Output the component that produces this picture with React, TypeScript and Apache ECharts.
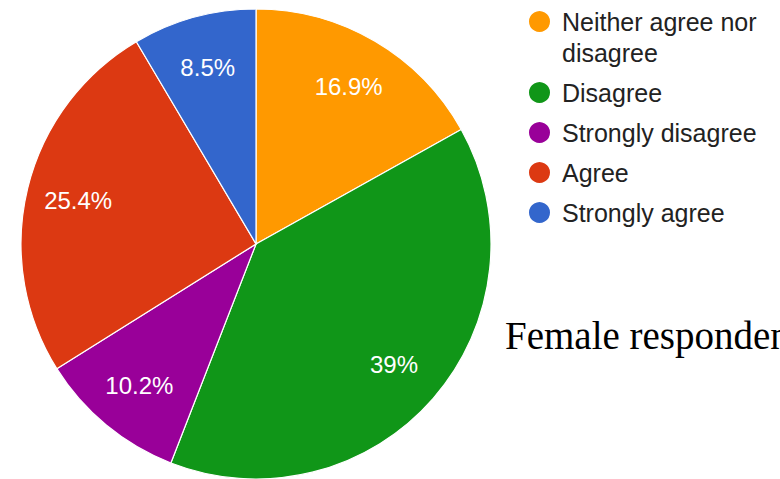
import React, { useEffect, useRef } from "react";
import * as echarts from "echarts";

const categories = [
  "Neither agree nor disagree",
  "Disagree",
  "Strongly disagree",
  "Agree",
  "Strongly agree",
];
const values = [16.9, 39, 10.2, 25.4, 8.5];
const colors = ["#FF9900", "#109618", "#990099", "#DC3912", "#3366CC"];
const sideText = "Female respondents";

export default function App() {
  const ref = useRef<HTMLDivElement>(null);
  useEffect(() => {
    if (!ref.current) return;
    const chart = echarts.init(ref.current, null, { renderer: "svg" });
    const data = categories.map((name, i) => ({
      name,
      value: values[i],
      itemStyle: { color: colors[i] },
    }));
    chart.setOption({
      animation: false,
      backgroundColor: "#ffffff",
      legend: {
        orient: "vertical",
        left: 527,
        top: -25,
        padding: 0,
        itemWidth: 35,
        itemHeight: 23,
        itemGap: 9,
        icon: "circle",
        selectedMode: false,
        data: categories,
        formatter: (name: string) =>
          name === "Neither agree nor disagree"
            ? "\nNeither agree nor\ndisagree"
            : name,
        textStyle: {
          fontFamily: "Liberation Sans, Arial, sans-serif",
          fontSize: 25,
          lineHeight: 31,
          color: "#222222",
        },
      },
      graphic: [
        {
          type: "text",
          left: 505,
          top: 316,
          style: {
            text: sideText,
            fontFamily: "Liberation Serif, Times New Roman, serif",
            fontSize: 39,
            fill: "#000000",
          },
        },
      ],
      series: [
        {
          type: "pie",
          center: [256, 244],
          radius: [0, 235],
          startAngle: 90,
          clockwise: true,
          data,
          label: { show: false },
          labelLine: { show: false },
          itemStyle: { borderColor: "#ffffff", borderWidth: 1.2 },
          emphasis: { disabled: true },
        },
        {
          type: "pie",
          center: [256, 244],
          radius: [125, 235],
          startAngle: 90,
          clockwise: true,
          silent: true,
          data: categories.map((name, i) => ({ name, value: values[i] })),
          itemStyle: { color: "rgba(0,0,0,0)", borderWidth: 0 },
          label: {
            show: true,
            position: "inside",
            formatter: (p: any) => `${p.value}%`,
            color: "#ffffff",
            fontFamily: "Liberation Sans, Arial, sans-serif",
            fontSize: 24,
          },
          labelLine: { show: false },
          emphasis: { disabled: true },
        },
      ],
    });
    return () => chart.dispose();
  }, []);
  return (
    <div
      ref={ref}
      style={{ position: "fixed", left: 0, top: 0, width: 780, height: 479 }}
    />
  );
}
